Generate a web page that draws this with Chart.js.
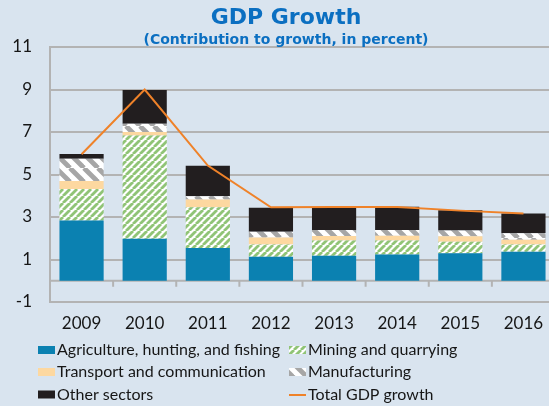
<!DOCTYPE html>
<html>
<head>
<meta charset="utf-8">
<script src="https://cdn.jsdelivr.net/npm/chart.js@4.4.1/dist/chart.umd.min.js"></script>
<style>
  html, body { margin: 0; padding: 0; background: #d9e4ef; overflow: hidden; }
  #wrap { width: 556px; height: 406px; }
</style>
</head>
<body>
<div id="wrap"><canvas id="gdp" width="556" height="406"></canvas></div>
<script>
// Contribution to GDP growth by sector, percentage points
const years = ['2009', '2010', '2011', '2012', '2013', '2014', '2015', '2016'];
const agriculture   = [2.83, 1.98, 1.54, 1.13, 1.18, 1.24, 1.29, 1.37];
const mining        = [1.49, 4.86, 1.92, 0.58, 0.71, 0.65, 0.55, 0.34];
const transport     = [0.37, 0.16, 0.36, 0.32, 0.22, 0.23, 0.25, 0.22];
const manufacturing = [1.05, 0.39, 0.16, 0.28, 0.28, 0.27, 0.27, 0.30];
const otherSectors  = [0.22, 1.59, 1.43, 1.13, 1.07, 1.09, 0.96, 0.94];
const totalGrowth   = [5.95, 9.00, 5.42, 3.46, 3.47, 3.47, 3.30, 3.17];
const yTicks = [-1, 1, 3, 5, 7, 9, 11];

const BG = '#d9e4ef';
const GRID = '#b3b3b3';
const TEXT = '#161616';
const BODY_FONT = 'Lato, "Noto Sans", sans-serif';

// diagonal hatch fill: dir +1 draws "/" stripes, -1 draws "\" stripes
function hatch(fg, bg, period, width, dir) {
  const c = document.createElement('canvas');
  c.width = period; c.height = period;
  const g = c.getContext('2d');
  g.fillStyle = bg;
  g.fillRect(0, 0, period, period);
  g.strokeStyle = fg;
  g.lineWidth = width;
  for (let k = -1; k <= 1; k++) {
    const x = k * period;
    g.beginPath();
    if (dir > 0) { g.moveTo(x, period); g.lineTo(x + period, 0); }
    else { g.moveTo(x, 0); g.lineTo(x + period, period); }
    g.stroke();
  }
  return g.createPattern(c, 'repeat');
}

const ctx = document.getElementById('gdp').getContext('2d');
const miningFill = hatch('#90c476', '#ffffff', 7, 2.8, 1);
const manufFill = hatch('#a6a6a6', '#ffffff', 14, 4.8, -1);

const backgroundPlugin = {
  id: 'background',
  beforeDraw(chart) {
    const c = chart.ctx;
    c.save();
    c.fillStyle = BG;
    c.fillRect(0, 0, chart.width, chart.height);
    c.restore();
  }
};

// zero line with short tick marks between the years
const zeroLinePlugin = {
  id: 'zeroLine',
  beforeDatasetsDraw(chart) {
    const c = chart.ctx, x = chart.scales.x, y = chart.scales.y;
    const y0 = y.getPixelForValue(0);
    const a = chart.chartArea;
    c.save();
    c.strokeStyle = GRID;
    c.lineWidth = 2;
    c.beginPath();
    c.moveTo(a.left, y0);
    c.lineTo(a.right, y0);
    for (let i = 0; i < years.length - 1; i++) {
      const bx = (x.getPixelForValue(i) + x.getPixelForValue(i + 1)) / 2;
      c.moveTo(bx, y0);
      c.lineTo(bx, y0 + 6);
    }
    c.stroke();
    c.restore();
  }
};

const titlePlugin = {
  id: 'titles',
  afterDraw(chart) {
    const c = chart.ctx;
    c.save();
    c.fillStyle = '#0b6fc1';
    c.textAlign = 'center';
    c.textBaseline = 'alphabetic';
    c.font = 'bold 22px "DejaVu Sans", sans-serif';
    c.fillText('GDP Growth', 286, 24);
    c.font = 'bold 14px "DejaVu Sans", sans-serif';
    c.fillText('(Contribution to growth, in percent)', 286, 44);
    c.restore();
  }
};

// two-column legend laid out under the axis labels
const legendPlugin = {
  id: 'gridLegend',
  afterDraw(chart) {
    const c = chart.ctx;
    const cols = [38, 289];
    const rows = [355, 377, 399.5];
    c.save();
    c.font = '16px ' + BODY_FONT;
    c.textBaseline = 'alphabetic';
    c.textAlign = 'left';
    chart.data.datasets.forEach((ds, i) => {
      const x = cols[i % 2];
      const base = rows[Math.floor(i / 2)];
      if (ds.type === 'line') {
        c.strokeStyle = ds.borderColor;
        c.lineWidth = 2;
        c.beginPath();
        c.moveTo(x, base - 4.5);
        c.lineTo(x + 17, base - 4.5);
        c.stroke();
      } else {
        c.fillStyle = ds.backgroundColor;
        c.fillRect(x, base - 9, 17, 8);
      }
      c.fillStyle = TEXT;
      c.fillText(ds.label, x + 19, base);
    });
    c.restore();
  }
};

const barDefaults = { type: 'bar', stack: 'sectors', order: 1, borderWidth: 0,
                      barPercentage: 0.7, categoryPercentage: 1.0 };

new Chart(ctx, {
  data: {
    labels: years,
    datasets: [
      { ...barDefaults, label: 'Agriculture, hunting, and fishing', data: agriculture, backgroundColor: '#0b81b1' },
      { ...barDefaults, label: 'Mining and quarrying', data: mining, backgroundColor: miningFill },
      { ...barDefaults, label: 'Transport and communication', data: transport, backgroundColor: '#fdd8a0' },
      { ...barDefaults, label: 'Manufacturing', data: manufacturing, backgroundColor: manufFill },
      { ...barDefaults, label: 'Other sectors', data: otherSectors, backgroundColor: '#221e1f' },
      { type: 'line', label: 'Total GDP growth', data: totalGrowth, stack: 'total', order: 0,
        borderColor: '#ef8229', borderWidth: 2, pointRadius: 0, tension: 0, fill: false }
    ]
  },
  options: {
    responsive: false,
    animation: false,
    devicePixelRatio: 1,
    layout: { padding: { top: 47, left: 0, right: 1, bottom: 73 } },
    plugins: { legend: { display: false }, title: { display: false }, tooltip: { enabled: false } },
    scales: {
      x: {
        stacked: true,
        afterFit(scale) { scale.height = 31; },
        grid: { display: false, drawTicks: false },
        border: { display: false },
        ticks: { color: TEXT, font: { family: BODY_FONT, size: 17 }, padding: 11, maxRotation: 0 }
      },
      y: {
        stacked: true,
        min: yTicks[0],
        max: yTicks[yTicks.length - 1],
        afterBuildTicks(scale) { scale.ticks = yTicks.map(v => ({ value: v })); },
        afterFit(scale) { scale.width = 50; },
        grid: { color: GRID, lineWidth: 2, drawTicks: false },
        border: { display: true, color: GRID, width: 2 },
        ticks: { color: TEXT, font: { family: BODY_FONT, size: 17 }, padding: 18 }
      }
    }
  },
  plugins: [backgroundPlugin, zeroLinePlugin, titlePlugin, legendPlugin]
});
</script>
</body>
</html>
